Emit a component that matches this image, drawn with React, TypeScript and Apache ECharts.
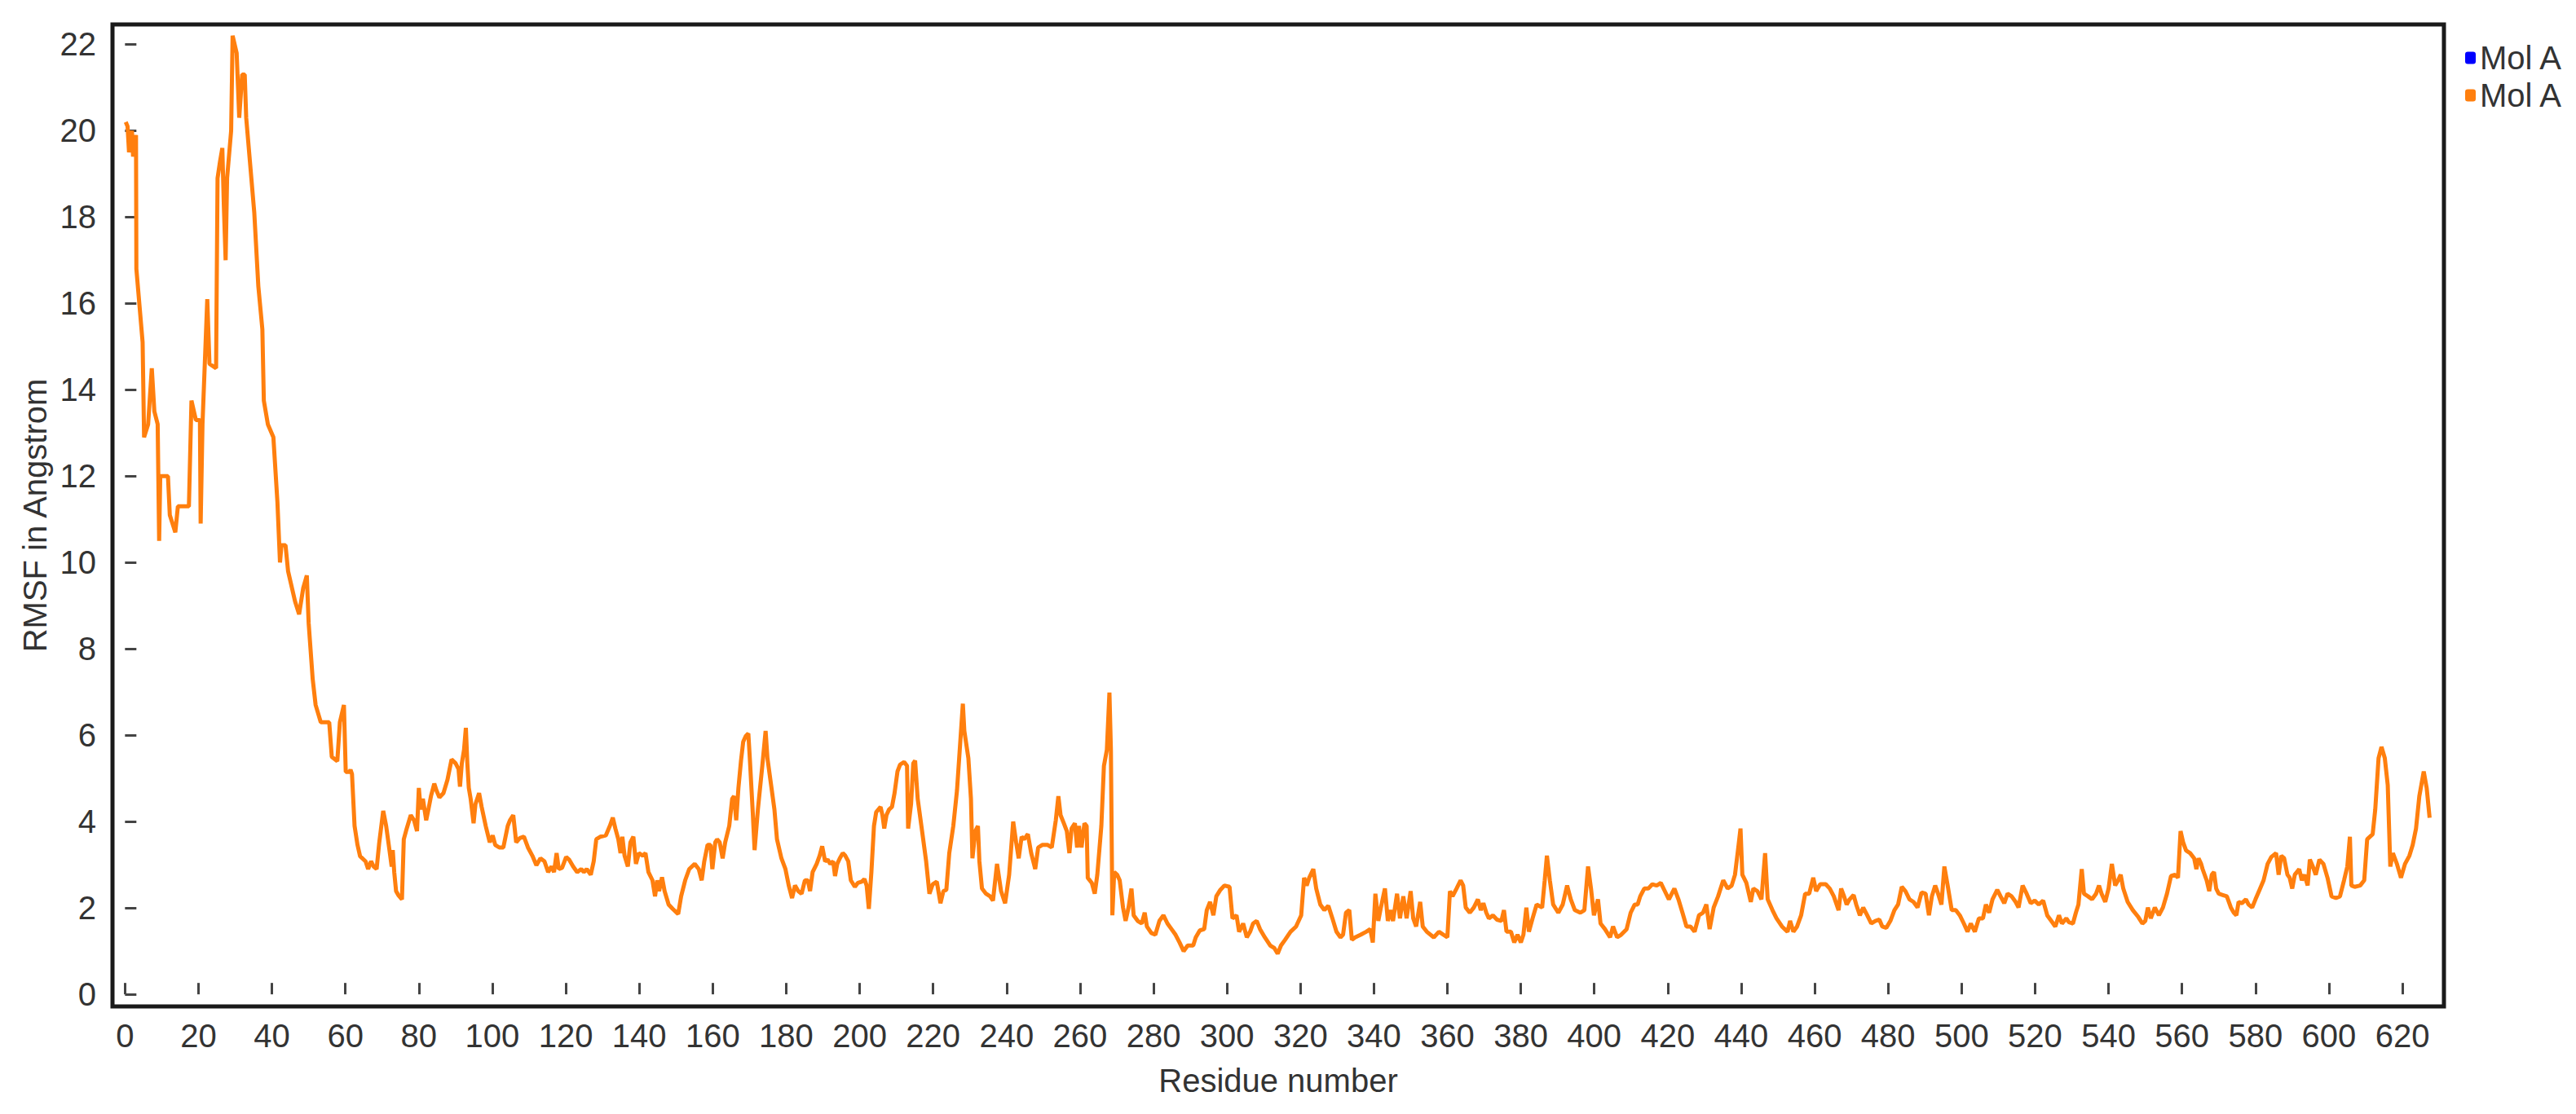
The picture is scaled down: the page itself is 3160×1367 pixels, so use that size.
import React, { useEffect, useRef } from "react";
import * as echarts from "echarts";

// Tick labels
const xTickValues = [0, 20, 40, 60, 80, 100, 120, 140, 160, 180, 200, 220, 240, 260, 280, 300, 320, 340, 360, 380, 400, 420, 440, 460, 480, 500, 520, 540, 560, 580, 600, 620];
const yTickValues = [0, 2, 4, 6, 8, 10, 12, 14, 16, 18, 20, 22];

// Legend / series names
const legendLabel = "Mol A";
const seriesNames = ["Mol A (blue)", "Mol A (orange)"];

// RMSF, residue number -> RMSF (Å), in segments
const resA = [0.2, 0.7, 1.1, 1.9, 2.2, 3.0, 3.1, 3.7, 4.8, 5.2, 6.3, 7.3, 8.0, 8.9, 9.3, 9.6, 11.7, 12.2, 13.7, 14.4, 17.4, 18.1, 19.3, 20.4, 20.6, 21.1, 22.4, 23.0, 24.8, 25.2, 25.9, 26.5, 26.9, 27.4, 27.8, 28.9, 29.3, 30.4, 31.1, 31.9, 32.6, 33.0, 34.0, 35.2, 36.3, 37.4, 37.8, 38.9, 40.4, 41.5, 42.2, 42.6, 43.7, 44.4, 46.3, 47.4, 48.5, 49.5, 50.0, 51.1, 51.9, 53.3, 55.6, 56.3, 57.8, 58.5, 59.6, 60.1, 61.1];
const rmsfA = [20.2, 20.1, 19.5, 20.0, 19.4, 19.9, 16.8, 16.2, 15.1, 12.9, 13.2, 14.5, 13.5, 13.2, 10.5, 12.0, 12.0, 11.1, 10.7, 11.3, 11.3, 13.75, 13.3, 13.3, 10.9, 13.2, 16.1, 14.6, 14.5, 18.9, 19.3, 19.6, 18.3, 17.0, 18.9, 20.0, 22.2, 21.8, 20.3, 21.3, 21.3, 20.3, 19.3, 18.1, 16.4, 15.4, 13.75, 13.2, 12.9, 11.4, 10.0, 10.4, 10.4, 9.8, 9.1, 8.8, 9.4, 9.7, 8.6, 7.3, 6.7, 6.3, 6.3, 5.5, 5.4, 6.3, 6.7, 5.15, 5.15];

const resB = [61.4, 61.8, 62.5, 63.3, 64.0, 65.5, 66.2, 67.0, 67.7, 68.5, 69.2, 70.3, 71.1, 72.0, 72.6, 72.9, 73.3, 73.8, 74.4, 75.4, 75.9, 76.7, 77.8, 78.7, 79.5, 80.0, 80.5, 81.1, 82.0, 82.6, 83.3, 84.2, 84.8, 85.6, 86.7, 87.8, 88.9, 90.0, 90.8, 91.2, 91.7, 92.3, 92.8, 93.2, 93.6, 94.1, 94.9, 95.4, 96.4, 97.1, 98.2, 99.3, 100.1, 100.8, 101.9, 103.0, 104.2, 104.8, 105.7, 106.5, 107.5, 108.6, 109.7, 110.9, 112.0, 113.1, 114.2, 115.2, 116.1, 116.8, 117.5, 118.1, 119.0, 120.1, 120.9, 122.0, 123.1, 124.2, 124.9, 125.7, 126.8, 127.6, 128.3, 129.4, 130.9, 132.0, 132.8, 133.5, 134.3, 134.9, 135.4, 136.0, 136.9, 137.6, 138.4, 139.1, 139.9, 141.0, 141.7, 142.5, 143.6, 144.3, 144.9, 145.4, 146.2, 146.9, 148.0, 149.1, 150.6, 151.4, 152.5, 153.6, 155.1, 156.2, 157.0, 157.7, 158.6, 159.4, 159.9, 160.7];
const rmsfB = [5.2, 5.1, 3.9, 3.46, 3.2, 3.08, 2.9, 3.08, 2.96, 2.9, 3.5, 4.25, 3.9, 3.34, 2.96, 3.34, 2.83, 2.39, 2.3, 2.2, 3.59, 3.84, 4.15, 4.03, 3.78, 4.78, 4.28, 4.53, 4.03, 4.28, 4.59, 4.88, 4.72, 4.56, 4.66, 4.97, 5.44, 5.35, 5.22, 4.81, 5.35, 5.66, 6.17, 5.35, 4.78, 4.53, 3.96, 4.4, 4.66, 4.34, 3.9, 3.52, 3.68, 3.46, 3.4, 3.4, 3.9, 4.03, 4.15, 3.52, 3.62, 3.65, 3.4, 3.21, 2.99, 3.15, 3.08, 2.83, 2.96, 2.83, 3.27, 2.9, 2.93, 3.18, 3.12, 2.96, 2.83, 2.9, 2.83, 2.9, 2.77, 3.08, 3.59, 3.65, 3.68, 3.9, 4.09, 3.84, 3.59, 3.27, 3.65, 3.21, 2.96, 3.52, 3.65, 3.02, 3.27, 3.21, 3.27, 2.83, 2.64, 2.27, 2.64, 2.39, 2.71, 2.39, 2.08, 1.98, 1.86, 2.27, 2.64, 2.9, 3.02, 2.9, 2.64, 3.08, 3.46, 3.46, 2.9, 3.52];

const resC = [161.2, 161.9, 162.7, 163.4, 164.5, 165.3, 165.8, 166.4, 167.0, 167.7, 168.3, 169.0, 169.7, 170.1, 170.9, 171.4, 172.3, 173.5, 174.4, 174.9, 175.7, 176.8, 177.5, 178.7, 179.8, 180.7, 181.6, 182.4, 183.3, 184.2, 185.1, 185.9, 186.5, 187.2, 188.3, 189.1, 189.8, 190.6, 191.3, 192.0, 192.8, 193.3, 193.9, 194.6, 195.4, 196.1, 196.9, 197.6, 198.7, 199.5, 200.6, 201.3, 201.9, 202.5, 203.2, 203.9, 204.5, 205.7, 206.2, 206.7, 207.3, 208.0, 208.8, 209.5, 210.3, 211.0, 212.1, 212.9, 213.2, 214.0, 214.6, 215.1, 215.8, 217.0, 218.1, 219.0, 219.9, 221.0, 222.0, 222.8, 223.6, 224.4, 225.5, 226.5, 227.4, 228.1, 228.5, 229.6, 230.3, 230.7, 231.5, 232.2, 232.6, 233.3, 234.4, 235.5, 236.3, 237.4, 238.5, 239.6, 240.7, 241.8, 242.6, 243.3, 244.1, 244.8, 245.8, 246.7, 247.8, 248.6, 249.7, 251.2, 252.3, 253.4, 254.1, 254.7, 255.6, 256.4, 257.1, 257.7, 258.6, 259.2, 259.7, 260.4, 261.2];
const rmsfC = [3.59, 3.52, 3.15, 3.52, 3.9, 4.53, 4.59, 4.03, 4.78, 5.41, 5.85, 5.98, 6.04, 5.47, 4.22, 3.34, 4.28, 5.29, 6.1, 5.47, 4.97, 4.28, 3.59, 3.15, 2.9, 2.52, 2.23, 2.52, 2.39, 2.33, 2.64, 2.64, 2.39, 2.83, 3.02, 3.21, 3.43, 3.08, 3.12, 3.02, 3.08, 2.74, 3.02, 3.15, 3.27, 3.21, 3.08, 2.64, 2.49, 2.58, 2.61, 2.67, 2.52, 1.98, 2.83, 3.9, 4.22, 4.34, 4.15, 3.84, 4.15, 4.28, 4.34, 4.66, 5.16, 5.32, 5.38, 5.29, 3.84, 4.41, 5.35, 5.41, 4.53, 3.78, 3.08, 2.33, 2.55, 2.61, 2.11, 2.39, 2.42, 3.27, 3.9, 4.72, 5.85, 6.73, 6.1, 5.47, 4.53, 3.15, 3.78, 3.9, 3.08, 2.45, 2.33, 2.27, 2.17, 3.02, 2.39, 2.11, 2.77, 4.0, 3.52, 3.15, 3.65, 3.59, 3.71, 3.27, 2.9, 3.4, 3.46, 3.46, 3.4, 4.03, 4.59, 4.15, 3.96, 3.78, 3.27, 3.84, 3.96, 3.4, 3.9, 3.4, 3.96];

const resD = [261.8, 262.1, 263.2, 264.0, 264.7, 265.8, 266.5, 267.3, 268.0, 268.4, 268.8, 269.3, 270.1, 270.8, 271.7, 272.4, 273.2, 274.0, 274.6, 275.7, 276.8, 277.6, 278.2, 279.4, 280.5, 281.6, 282.7, 283.8, 284.9, 286.0, 287.1, 288.2, 289.3, 290.8, 291.5, 292.6, 293.8, 294.5, 295.4, 296.3, 297.1, 298.2, 299.3, 300.7, 301.5, 302.6, 303.3, 304.4, 305.4, 306.3, 307.1, 308.1, 309.0, 310.3, 311.8, 312.9, 313.8, 314.7, 315.8, 317.3, 318.8, 320.2, 321.0, 321.7, 322.4, 323.5, 324.3, 325.4, 326.5, 327.6, 328.7, 329.8, 330.9, 331.6, 332.4, 333.3, 334.0, 334.9, 336.4, 337.9, 339.0, 339.7, 340.4, 341.2, 341.9, 343.0, 343.8, 344.5, 345.2, 346.3, 347.1, 348.0, 348.9, 350.0, 350.7, 351.5, 352.6, 353.3, 354.4, 356.3, 357.7, 360.0, 360.7, 361.4, 362.5, 363.6, 364.3, 365.0];
const rmsfD = [3.9, 2.7, 2.58, 2.33, 2.77, 3.9, 5.29, 5.66, 6.99, 5.66, 1.83, 2.83, 2.77, 2.64, 2.01, 1.7, 2.01, 2.45, 1.83, 1.7, 1.64, 1.89, 1.57, 1.42, 1.38, 1.7, 1.83, 1.64, 1.51, 1.38, 1.2, 1.0, 1.13, 1.13, 1.32, 1.48, 1.51, 1.95, 2.14, 1.83, 2.27, 2.42, 2.52, 2.49, 1.76, 1.83, 1.45, 1.64, 1.32, 1.45, 1.64, 1.7, 1.51, 1.32, 1.13, 1.07, 0.94, 1.13, 1.26, 1.45, 1.57, 1.83, 2.7, 2.52, 2.7, 2.9, 2.45, 2.08, 1.95, 2.05, 1.76, 1.45, 1.32, 1.38, 1.89, 1.95, 1.26, 1.32, 1.38, 1.45, 1.51, 1.2, 2.33, 1.7, 2.01, 2.45, 1.7, 1.95, 1.7, 2.33, 1.76, 2.27, 1.76, 2.39, 1.76, 1.57, 2.14, 1.57, 1.45, 1.32, 1.45, 1.32, 2.39, 2.27, 2.45, 2.64, 2.52, 2.01];

const resE = [366.1, 367.2, 368.3, 369.1, 369.8, 370.6, 371.3, 372.4, 373.5, 374.7, 375.4, 376.1, 377.3, 378.2, 379.1, 380.0, 380.7, 381.5, 382.2, 383.2, 384.3, 385.8, 386.5, 387.1, 387.9, 388.8, 390.2, 391.4, 392.6, 393.6, 394.7, 396.2, 397.3, 398.3, 399.1, 399.9, 401.0, 401.7, 402.9, 404.3, 405.1, 406.2, 407.3, 408.8, 409.9, 411.0, 411.8, 412.5, 413.6, 414.7, 415.8, 417.0, 418.1, 419.2, 420.3, 421.8, 422.9, 424.0, 425.1, 426.2, 427.3, 428.5, 429.6, 430.5, 431.4, 432.5, 433.7, 435.1, 436.3, 437.4, 438.3, 439.1, 439.8, 440.3, 441.4, 442.6, 443.3, 444.4, 445.5, 446.5, 447.2, 448.5, 449.6, 451.1, 452.6, 453.3, 454.2, 455.2, 456.3, 457.4, 458.5, 459.6, 460.4, 461.5, 463.0, 464.1, 465.2];
const rmsfE = [1.89, 2.01, 2.2, 1.95, 2.11, 1.89, 1.76, 1.83, 1.73, 1.7, 1.95, 1.45, 1.45, 1.2, 1.38, 1.2, 1.38, 2.01, 1.45, 1.76, 2.08, 2.01, 2.64, 3.21, 2.64, 2.08, 1.89, 2.08, 2.52, 2.2, 1.95, 1.89, 1.95, 2.96, 2.45, 1.83, 2.2, 1.64, 1.51, 1.32, 1.57, 1.32, 1.38, 1.51, 1.89, 2.08, 2.08, 2.27, 2.45, 2.45, 2.55, 2.52, 2.58, 2.39, 2.2, 2.45, 2.2, 1.89, 1.57, 1.57, 1.45, 1.83, 1.89, 2.08, 1.51, 2.01, 2.27, 2.64, 2.45, 2.52, 2.77, 3.33, 3.84, 2.77, 2.58, 2.14, 2.45, 2.39, 2.2, 3.27, 2.2, 1.95, 1.76, 1.57, 1.45, 1.7, 1.45, 1.57, 1.83, 2.33, 2.33, 2.7, 2.39, 2.55, 2.55, 2.45, 2.27];

const resF = [466.5, 467.2, 468.0, 468.7, 469.5, 470.6, 471.3, 472.3, 473.2, 474.3, 475.4, 476.5, 477.6, 478.4, 479.5, 480.6, 481.7, 482.7, 483.7, 484.7, 485.8, 486.9, 488.0, 489.1, 490.2, 491.1, 491.9, 492.8, 493.6, 494.5, 495.3, 496.2, 497.3, 498.4, 499.5, 500.6, 501.6, 502.5, 503.6, 504.7, 505.8, 506.6, 507.5, 508.4, 509.7, 510.6, 511.6, 512.5, 513.6, 514.7, 515.5, 516.6, 517.7, 518.8, 519.9, 521.0, 522.2, 523.3, 524.4, 525.5, 526.5, 527.3, 528.5, 529.2, 530.3, 531.1, 531.8, 532.7, 533.3, 534.4, 535.5, 536.6, 537.4, 538.1, 539.1, 540.0, 540.9, 541.8, 542.6, 543.3, 544.0, 545.2, 546.6, 548.1, 549.2, 550.0, 550.7, 551.5, 552.6, 553.7, 554.8, 555.9, 557.0, 558.1, 558.9, 559.6, 560.3, 561.1, 562.2, 563.3, 563.9, 564.5, 565.2];
const rmsfF = [1.95, 2.45, 2.27, 2.08, 2.2, 2.3, 2.08, 1.83, 2.01, 1.83, 1.64, 1.7, 1.73, 1.57, 1.54, 1.7, 1.95, 2.08, 2.49, 2.39, 2.2, 2.14, 2.01, 2.36, 2.33, 1.83, 2.27, 2.52, 2.33, 2.08, 2.96, 2.52, 1.95, 1.95, 1.83, 1.64, 1.45, 1.64, 1.45, 1.76, 1.76, 2.08, 1.89, 2.2, 2.42, 2.27, 2.11, 2.33, 2.27, 2.14, 2.01, 2.52, 2.33, 2.11, 2.17, 2.08, 2.17, 1.83, 1.7, 1.57, 1.83, 1.64, 1.76, 1.67, 1.64, 1.89, 2.08, 2.9, 2.33, 2.27, 2.2, 2.33, 2.52, 2.33, 2.14, 2.45, 3.02, 2.52, 2.64, 2.77, 2.45, 2.14, 1.95, 1.79, 1.64, 1.7, 2.01, 1.76, 2.01, 1.83, 2.01, 2.33, 2.74, 2.77, 2.7, 3.78, 3.52, 3.33, 3.27, 3.15, 2.9, 3.15, 3.02];

const resG = [565.6, 566.7, 567.4, 568.1, 568.7, 569.3, 570.0, 571.1, 572.2, 573.3, 574.1, 574.8, 575.4, 576.3, 577.4, 578.1, 579.1, 580.0, 581.1, 582.2, 583.3, 584.3, 585.6, 586.3, 587.0, 587.8, 588.7, 589.3, 590.0, 590.7, 591.9, 592.6, 593.3, 594.2, 594.8, 595.6, 596.4, 597.4, 598.5, 599.6, 600.7, 601.9, 603.0, 604.1, 605.0, 605.7, 606.1, 607.0, 608.5, 609.6, 610.4, 611.9, 612.6, 613.5, 614.3, 615.2, 616.0, 616.7, 617.4, 618.5, 619.6, 620.7, 621.9, 622.8, 623.7, 624.6, 625.8, 626.6, 627.4];
const rmsfG = [2.9, 2.64, 2.39, 2.77, 2.83, 2.45, 2.33, 2.3, 2.27, 2.01, 1.89, 1.83, 2.14, 2.11, 2.2, 2.08, 2.01, 2.2, 2.42, 2.64, 3.02, 3.18, 3.27, 2.77, 3.21, 3.15, 2.77, 2.7, 2.45, 2.77, 2.9, 2.64, 2.77, 2.52, 3.12, 2.96, 2.77, 3.12, 3.02, 2.7, 2.27, 2.23, 2.27, 2.64, 2.96, 3.65, 2.52, 2.49, 2.52, 2.64, 3.59, 3.71, 4.28, 5.47, 5.73, 5.47, 4.85, 2.96, 3.27, 3.02, 2.7, 3.02, 3.21, 3.46, 3.84, 4.59, 5.16, 4.78, 4.09];

const residues = [...resA, ...resB, ...resC, ...resD, ...resE, ...resF, ...resG];
const rmsf = [...rmsfA, ...rmsfB, ...rmsfC, ...rmsfD, ...rmsfE, ...rmsfF, ...rmsfG];

const FONT = "'Liberation Sans', Arial, Helvetica, sans-serif";
const TEXT_COLOR = "#333333";

export default function App() {
  const ref = useRef<HTMLDivElement>(null);

  useEffect(() => {
    if (!ref.current) return;
    const chart = echarts.init(ref.current, null, { renderer: "svg" });
    const lineData = residues.map((r, i) => [r, rmsf[i]]);

    chart.setOption({
      animation: false,
      backgroundColor: "#ffffff",
      textStyle: { fontFamily: FONT },
      grid: {
        left: 138,
        right: 162,
        top: 30,
        bottom: 132,
        show: true,
        borderColor: "#1a1a1a",
        borderWidth: 5,
        backgroundColor: "transparent",
      },
      legend: {
        orient: "vertical",
        left: 3019,
        top: 46,
        itemWidth: 13,
        itemHeight: 15,
        itemGap: 6,
        icon: "roundRect",
        formatter: () => legendLabel,
        textStyle: { fontSize: 40, color: TEXT_COLOR, fontFamily: FONT },
        data: seriesNames,
      },
      xAxis: {
        type: "value",
        min: -3.4,
        max: 631.3,
        name: "Residue number",
        nameLocation: "middle",
        nameGap: 71,
        nameTextStyle: { fontSize: 40, color: TEXT_COLOR, fontFamily: FONT },
        axisLine: { show: false },
        splitLine: { show: false },
        axisTick: {
          show: true,
          inside: true,
          length: 14,
          customValues: xTickValues,
          lineStyle: { color: "#444", width: 3 },
        },
        axisLabel: {
          customValues: xTickValues,
          fontSize: 40,
          color: TEXT_COLOR,
          margin: 16,
          fontFamily: FONT,
        },
      },
      yAxis: {
        type: "value",
        min: -0.28,
        max: 22.46,
        name: "RMSF in Angstrom",
        nameLocation: "middle",
        nameGap: 74,
        nameTextStyle: { fontSize: 40, color: TEXT_COLOR, fontFamily: FONT },
        axisLine: { show: false },
        splitLine: { show: false },
        axisTick: {
          show: true,
          inside: true,
          length: 14,
          customValues: yTickValues,
          lineStyle: { color: "#444", width: 3 },
        },
        axisLabel: {
          customValues: yTickValues,
          fontSize: 40,
          color: TEXT_COLOR,
          margin: 20,
          fontFamily: FONT,
        },
      },
      series: [
        {
          name: seriesNames[0],
          type: "line",
          data: [],
          showSymbol: false,
          itemStyle: { color: "#0000ff" },
          lineStyle: { color: "#0000ff", width: 4 },
          silent: true,
        },
        {
          name: seriesNames[1],
          type: "line",
          data: lineData,
          showSymbol: false,
          symbol: "none",
          itemStyle: { color: "#ff7f0e" },
          lineStyle: { color: "#ff7f0e", width: 5 },
          silent: true,
          z: 3,
        },
      ],
    });

    return () => chart.dispose();
  }, []);

  return (
    <div
      ref={ref}
      style={{ position: "fixed", left: 0, top: 0, width: 3160, height: 1367, background: "#ffffff" }}
    />
  );
}
